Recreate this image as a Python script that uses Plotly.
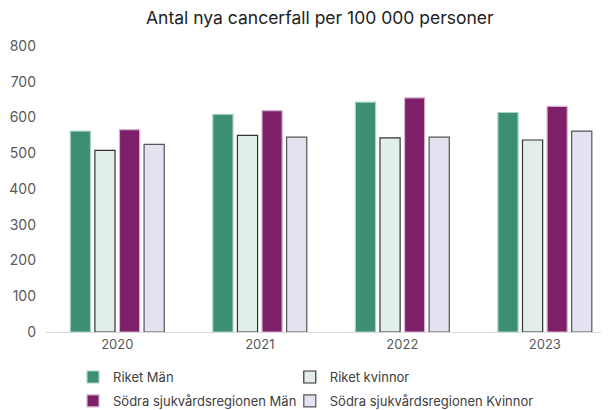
import plotly.graph_objects as go

years = ["2020", "2021", "2022", "2023"]
riket_man = [562, 609, 643, 614]
riket_kvinnor = [508, 550, 543, 537]
sodra_man = [566, 619, 655, 631]
sodra_kvinnor = [525, 545, 545, 562]

series = [
    ("Riket Män", riket_man, "#3d8f74", "#a9d2c2", "legend"),
    ("Riket kvinnor", riket_kvinnor, "#e2eee9", "#333333", "legend2"),
    ("Södra sjukvårdsregionen Män", sodra_man, "#7e1f6a", "#d9b3cf", "legend"),
    ("Södra sjukvårdsregionen Kvinnor", sodra_kvinnor, "#e6e1f1", "#555555", "legend2"),
]

fig = go.Figure()
for name, vals, fill, line, leg in series:
    fig.add_trace(go.Bar(
        x=years, y=vals, name=name, legend=leg, legendgroup=name,
        marker=dict(color=fill, line=dict(color=line, width=1.2)),
    ))

legend_style = dict(orientation="v", y=-0.105, yanchor="top", xanchor="left",
                    font=dict(size=13, color="#404040"), tracegroupgap=4,
                    traceorder="grouped", bgcolor="rgba(0,0,0,0)")

fig.update_layout(
    width=609, height=410,
    margin=dict(l=38, r=8, t=38, b=86, autoexpand=False),
    paper_bgcolor="white", plot_bgcolor="white",
    font=dict(family="Inter, Lato, sans-serif", color="#595959", size=13),
    title=dict(text="Antal nya cancerfall per 100 000 personer",
               x=0.512, xanchor="center", y=0.975, yanchor="middle",
               font=dict(size=17.5, color="#222222")),
    barmode="group", bargap=0.31, bargroupgap=0.18,
    showlegend=True,
    legend=dict(x=0.048, **legend_style),
    legend2=dict(x=0.433, **legend_style),
    xaxis=dict(type="category", range=[-0.5, 3.45], showline=True, automargin=False,
               linecolor="#d9d9d9", linewidth=1, ticks="", showgrid=False,
               tickfont=dict(size=13, color="#595959")),
    yaxis=dict(range=[0, 800], dtick=100, showgrid=False, zeroline=False, automargin=False,
               showline=False, ticks="", ticklabelstandoff=9,
               tickfont=dict(size=14, color="#595959")),
)

fig.write_html("out.html")
